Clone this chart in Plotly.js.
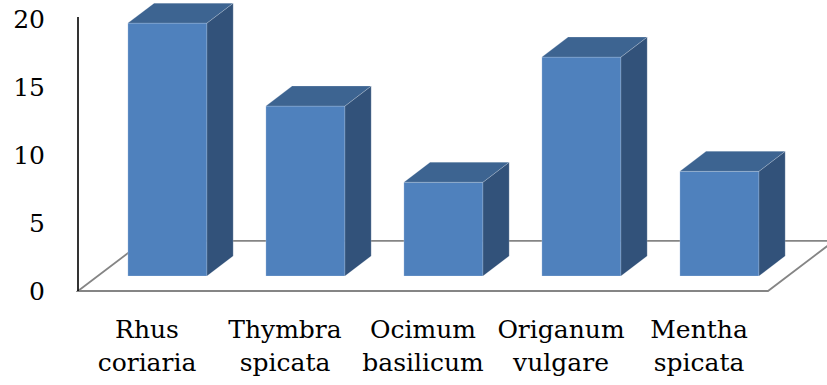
<!DOCTYPE html>
<html>
<head>
<meta charset="utf-8">
<script src="https://cdn.plot.ly/plotly-3.0.1.min.js"></script>
<style>html,body{margin:0;padding:0;background:#fff;}#chart{width:827px;height:385px;}</style>
</head>
<body>
<div id="chart"></div>
<script>
// ---- data ----
var categories = ["Rhus<br>coriaria", "Thymbra<br>spicata", "Ocimum<br>basilicum", "Origanum<br>vulgare", "Mentha<br>spicata"];
var values = [18.6, 12.5, 6.9, 16.1, 7.7];
var yTicks = [0, 5, 10, 15, 20];

// ---- oblique 3D projection constants (data units) ----
var FLOOR_DX = 0.478, FLOOR_DY = 3.68;   // full floor depth
var BAR_OFF_X = 0.148, BAR_OFF_Y = 1.10; // bar front plane offset from floor front
var BAR_DX = 0.19, BAR_DY = 1.47;        // bar depth
var BAR_W = 0.573;

var FRONT = '#4f81bd', TOP = '#3d6491', SIDE = '#32527a';

var xs = categories.map(function (_, i) { return i; });
var traces = [];

// front faces
traces.push({
  type: 'bar',
  x: xs.map(function (i) { return i + BAR_OFF_X; }),
  y: values,
  base: values.map(function () { return BAR_OFF_Y; }),
  width: BAR_W,
  marker: { color: FRONT, line: { width: 0.6, color: 'rgba(255,255,255,0.35)' } },
  hoverinfo: 'skip', showlegend: false
});

values.forEach(function (v, i) {
  var xl = i + BAR_OFF_X - BAR_W / 2, xr = i + BAR_OFF_X + BAR_W / 2;
  var b = BAR_OFF_Y, t = BAR_OFF_Y + v;
  // side face
  traces.push({
    type: 'scatter', mode: 'lines', fill: 'toself', fillcolor: SIDE,
    x: [xr, xr, xr + BAR_DX, xr + BAR_DX, xr],
    y: [b, t, t + BAR_DY, b + BAR_DY, b],
    line: { width: 0.6, color: 'rgba(255,255,255,0.3)' },
    hoverinfo: 'skip', showlegend: false
  });
  // top face
  traces.push({
    type: 'scatter', mode: 'lines', fill: 'toself', fillcolor: TOP,
    x: [xl, xr, xr + BAR_DX, xl + BAR_DX, xl],
    y: [t, t, t + BAR_DY, t + BAR_DY, t],
    line: { width: 0.6, color: 'rgba(255,255,255,0.3)' },
    hoverinfo: 'skip', showlegend: false
  });
});

var xMin = -0.5, xMax = categories.length - 0.5;
var floorPath = 'M ' + xMin + ' 0 L ' + (xMin + FLOOR_DX) + ' ' + FLOOR_DY +
  ' L ' + (xMax + FLOOR_DX) + ' ' + FLOOR_DY + ' L ' + xMax + ' 0 Z';

var layout = {
  width: 827, height: 385,
  margin: { l: 76, r: 0, t: 0, b: 92, pad: 0 },
  paper_bgcolor: '#fff', plot_bgcolor: '#fff',
  font: { family: '"DejaVu Serif", serif', size: 25, color: '#000' },
  showlegend: false,
  xaxis: {
    range: [-0.5145, 4.9275], tickvals: xs, ticktext: categories,
    showgrid: false, zeroline: false, showline: false,
    ticks: 'outside', ticklen: 14, tickcolor: 'rgba(0,0,0,0)',
    tickfont: { family: '"DejaVu Serif", serif', size: 25, color: '#000' }
  },
  yaxis: {
    range: [-0.147, 21.4], tickvals: yTicks, ticktext: yTicks.map(String),
    showgrid: false, zeroline: false, showline: false,
    ticks: 'outside', ticklen: 25, tickcolor: 'rgba(0,0,0,0)',
    tickfont: { family: '"DejaVu Serif", serif', size: 25, color: '#000' }
  },
  shapes: [
    { type: 'path', xref: 'x', yref: 'y', path: floorPath, layer: 'below',
      line: { color: '#858585', width: 1.8 }, fillcolor: 'rgba(0,0,0,0)' },
    { type: 'line', xref: 'x', yref: 'y', x0: xMin, x1: xMin, y0: 0, y1: yTicks[yTicks.length - 1] + 0.15,
      layer: 'above', line: { color: '#000', width: 1.6 } }
  ]
};

Plotly.newPlot('chart', traces, layout, { displayModeBar: false, staticPlot: true });
</script>
</body>
</html>
